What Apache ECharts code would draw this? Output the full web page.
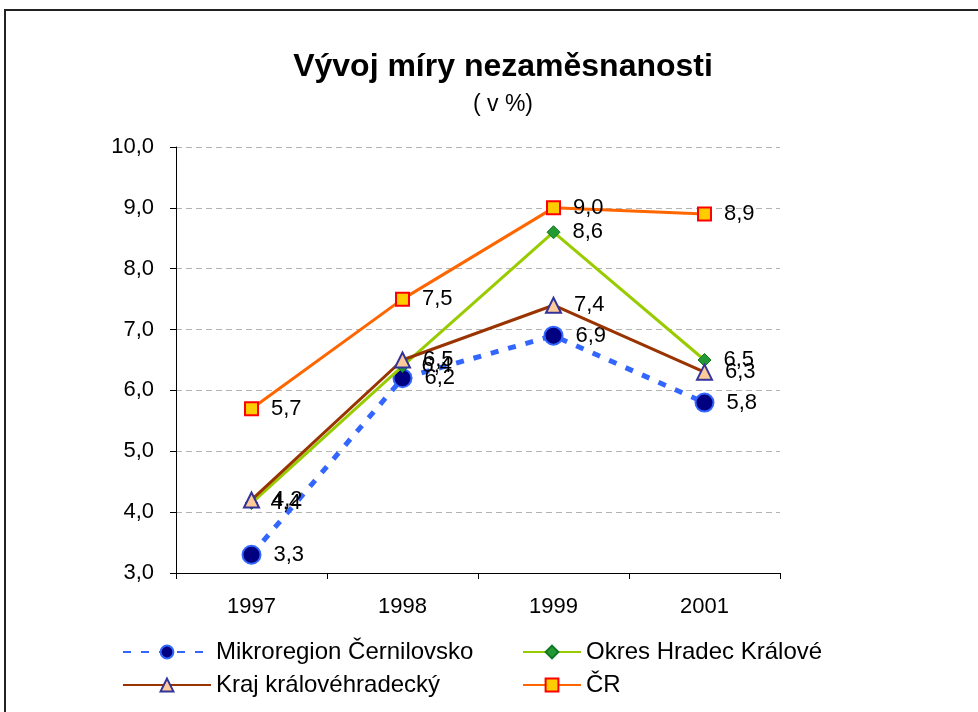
<!DOCTYPE html>
<html>
<head>
<meta charset="utf-8">
<title>Vývoj míry nezaměsnanosti</title>
<script src="https://cdn.jsdelivr.net/npm/echarts@6/dist/echarts.min.js"></script>
<style>
  html, body { margin: 0; padding: 0; background: #fff; }
  #chart { width: 978px; height: 712px; }
</style>
</head>
<body>
<div id="chart"></div>
<script>
// data
var years = ['1997', '1998', '1999', '2001'];
var mikroregion = [3.3, 6.2, 6.9, 5.8];
var okres = [4.15, 6.4, 8.6, 6.5];
var kraj = [4.2, 6.5, 7.4, 6.3];
var cr = [5.7, 7.5, 9.0, 8.9];
// label texts as printed in the original (1997 labels overlap there)
var okresLabels = ['4,4', '6,4', '8,6', '6,5'];

var font = 'Liberation Sans, Arial, sans-serif';

function fmt(v) { return v.toFixed(1).replace('.', ','); }

var lbl = {
    show: true,
    position: 'right',
    distance: 12,
    color: '#000',
    fontFamily: font,
    fontSize: 22,
    formatter: function (p) { return fmt(p.value); }
};

var chart = echarts.init(document.getElementById('chart'));

var option = {
    animation: false,
    backgroundColor: '#fff',
    title: [{
        text: 'Vývoj míry nezaměsnanosti',
        left: 498, top: 46, textAlign: 'center',
        textStyle: { fontFamily: font, fontSize: 32, fontWeight: 'bold', color: '#000' }
    }, {
        text: '( v %)',
        left: 498, top: 88, textAlign: 'center',
        textStyle: { fontFamily: font, fontSize: 23, fontWeight: 'normal', color: '#000' }
    }],
    graphic: [{
        type: 'rect',
        shape: { x: 5, y: 10, width: 1000, height: 800 },
        style: { fill: 'none', stroke: '#222', lineWidth: 2 },
        silent: true
    }],
    legend: [
        { data: ['Mikroregion Černilovsko'], left: 122, top: 640 },
        { data: ['Okres Hradec Králové'], left: 522, top: 640 },
        { data: ['Kraj královéhradecký'], left: 122, top: 673 },
        { data: ['ČR'], left: 522, top: 673 }
    ].map(function (l) {
        l.itemWidth = l.left === 122 ? 88 : 58;
        l.itemHeight = 16;
        l.itemGap = 4;
        l.padding = 0;
        l.textStyle = { fontFamily: font, fontSize: 24, color: '#000', padding: [0, 0, 0, 0] };
        return l;
    }),
    grid: { left: 176, right: 198, top: 147, bottom: 139, containLabel: false },
    xAxis: {
        type: 'category',
        data: years,
        boundaryGap: true,
        axisLine: { lineStyle: { color: '#000', width: 1 } },
        axisTick: { show: true, length: 6, inside: false, lineStyle: { color: '#000' } },
        axisLabel: { color: '#000', fontFamily: font, fontSize: 22, margin: 23 },
        splitLine: { show: false }
    },
    yAxis: {
        type: 'value',
        min: 3, max: 10, interval: 1,
        axisLine: { show: true, lineStyle: { color: '#000', width: 1 } },
        axisTick: { show: true, length: 6, lineStyle: { color: '#000' } },
        axisLabel: { color: '#000', fontFamily: font, fontSize: 22, margin: 22,
            formatter: function (v) { return fmt(v); } },
        splitLine: { show: true, lineStyle: { color: '#b3b3b3', type: [6, 4], width: 1 } }
    },
    series: [{
        name: 'Mikroregion Černilovsko',
        type: 'line',
        data: mikroregion,
        z: 2,
        lineStyle: { color: '#3366ff', width: 5, type: [8, 10] },
        symbol: 'circle', symbolSize: 18,
        itemStyle: { color: '#000080', borderColor: '#3366ff', borderWidth: 2 },
        label: lbl
    }, {
        name: 'Okres Hradec Králové',
        type: 'line',
        data: okres,
        z: 3,
        lineStyle: { color: '#99cc00', width: 3 },
        symbol: 'diamond', symbolSize: 13,
        itemStyle: { color: '#229933', borderColor: '#117722', borderWidth: 1 },
        label: Object.assign({}, lbl, {
            formatter: function (p) { return okresLabels[p.dataIndex]; }
        })
    }, {
        name: 'Kraj královéhradecký',
        type: 'line',
        data: kraj,
        z: 4,
        lineStyle: { color: '#993300', width: 3 },
        symbol: 'triangle', symbolSize: 15,
        itemStyle: { color: '#ffcc99', borderColor: '#333399', borderWidth: 2 },
        label: lbl
    }, {
        name: 'ČR',
        type: 'line',
        data: cr,
        z: 5,
        lineStyle: { color: '#ff6600', width: 3 },
        symbol: 'rect', symbolSize: 13,
        itemStyle: { color: '#ffcc00', borderColor: '#ff0000', borderWidth: 2 },
        label: lbl
    }]
};

chart.setOption(option);
</script>
</body>
</html>
